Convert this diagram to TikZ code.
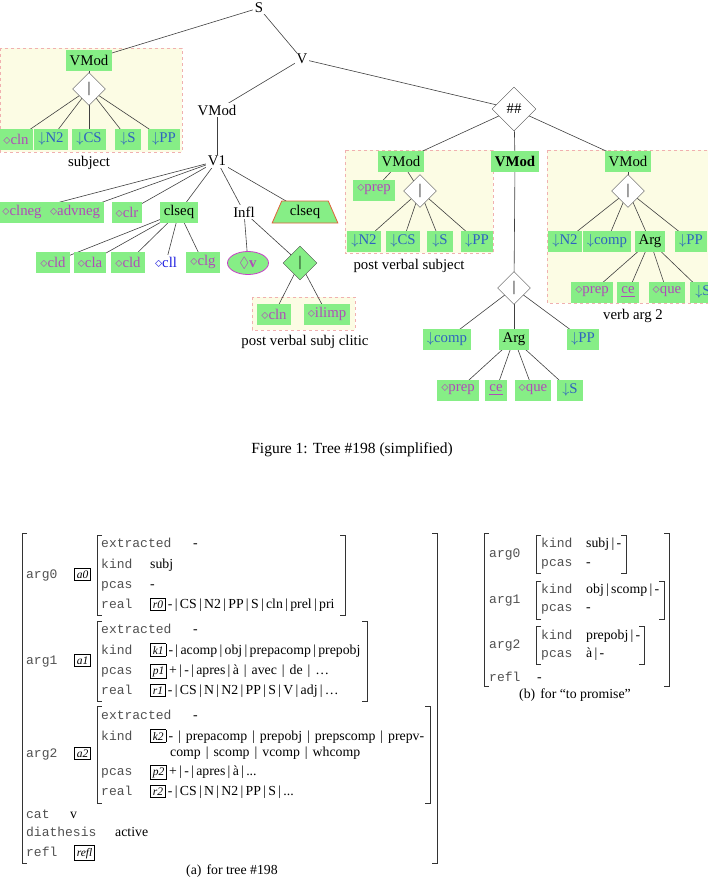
\documentclass[tikz,border=0pt]{standalone}
\usepackage{amssymb}
\usepackage{fontspec}
\setmainfont{Liberation Serif}
\setmonofont{Liberation Mono}
\usepackage{xcolor}
\definecolor{nodegreen}{HTML}{86EE86}
\definecolor{zoneyellow}{HTML}{FCFCE4}
\definecolor{zoneborder}{HTML}{F0B0B0}
\definecolor{coanchor}{HTML}{B04CB8}
\definecolor{substblue}{HTML}{2E62C0}
\definecolor{lexblue}{HTML}{2020E0}
\definecolor{trapborder}{HTML}{E0603A}
\definecolor{ellborder}{HTML}{C840C8}
\definecolor{avmgray}{HTML}{505050}
\usepackage{tikz}
\usetikzlibrary{shapes.geometric,positioning}
\pgfdeclarelayer{zonelayer}
\pgfdeclarelayer{branchlayer}
\pgfsetlayers{zonelayer,branchlayer,main}
\newcommand{\treefont}{\fontsize{14.8}{17}\selectfont}
\newcommand{\capfont}{\fontsize{15.5}{18}\selectfont}
\newcommand{\avmfont}{\fontsize{13.8}{16}\selectfont}
\newcommand{\avmtt}{\fontsize{13}{16}\selectfont\ttfamily}
\newcommand{\tagbx}[1]{{\setlength{\fboxsep}{2pt}\setlength{\fboxrule}{0.6pt}\fbox{\fontsize{11.5}{11.5}\selectfont\itshape #1}}}
\newcommand{\orsep}{\,|\,}
\newcommand{\wsep}{\hspace{5pt}|\hspace{5pt}}
\newcommand{\lbrk}[3]{\draw[brk] (#1+5,#2) -- (#1,#2) -- (#1,#3) -- (#1+5,#3);}
\newcommand{\rbrk}[3]{\draw[brk] (#1-5,#2) -- (#1,#2) -- (#1,#3) -- (#1-5,#3);}

\begin{document}
\begin{tikzpicture}[x=1pt,y=-1pt,
  every node/.style={font=\treefont},
  txt/.style={fill=white,inner sep=1.5pt},
  gbox/.style={fill=nodegreen,inner xsep=4pt,inner ysep=2pt,minimum height=21pt},
  subst/.style={gbox,text=substblue,minimum width=26pt},
  coanch/.style={gbox,text=coanchor},
  choice/.style={diamond,draw=black!70,fill=white,inner sep=0pt,minimum width=33pt,minimum height=33pt},
  zone/.style={fill=zoneyellow,draw=zoneborder,dashed,line width=0.5pt},
  branch/.style={draw=black!75,line width=0.6pt},
  attr/.style={font=\avmtt,text=avmgray,anchor=west,inner sep=0pt,text height=9pt,text depth=3pt},
  avmval/.style={font=\avmfont,anchor=west,inner sep=0pt,text height=9pt,text depth=3pt},
  brk/.style={line width=0.8pt,black!80}]
\useasboundingbox (0,0) rectangle (708,881);

% spine of the tree
\node[txt] (S) at (259,8) {S};
\node[txt] (V) at (302,59) {V};
\node[txt] (vmodA) at (217,110) {VMod};
\node[txt] (vone) at (217,161) {V1};
\node[choice,minimum width=44pt,minimum height=44pt] (hash) at (514,109) {\#\#};

% subject
\node[gbox] (subjvmod) at (89,60) {VMod};
\node[choice] (subjdia) at (89,89) {|};
\node[coanch] (scln) at (16,139) {$\diamond$cln};
\node[subst] (sNtwo) at (51,139) {$\downarrow$N2};
\node[subst] (sCS) at (89,139) {$\downarrow$CS};
\node[subst] (sS) at (128,139) {$\downarrow$S};
\node[subst] (sPP) at (164,139) {$\downarrow$PP};
\node (subjlab) at (89,163) {subject};

% clitics and inflection
\node[coanch] (clneg) at (22,212) {$\diamond$clneg};
\node[coanch] (advneg) at (75,212) {$\diamond$advneg};
\node[coanch] (clr) at (127,212) {$\diamond$clr};
\node[gbox] (clseqA) at (179,212) {clseq};
\node[txt] (infl) at (244,212) {Infl};
\node[trapezium,trapezium left angle=65,trapezium right angle=65,trapezium stretches=true,
  draw=trapborder,line width=0.8pt,fill=nodegreen,minimum width=66pt,minimum height=22pt,inner sep=0pt] (clseqB) at (305,212) {clseq};
\node[coanch] (cldA) at (53,262) {$\diamond$cld};
\node[coanch] (cla) at (90,262) {$\diamond$cla};
\node[coanch] (cldB) at (128,262) {$\diamond$cld};
\node[txt,text=lexblue] (cll) at (166,262) {$\diamond$cll};
\node[coanch] (clg) at (203,262) {$\diamond$clg};
\node[ellipse,draw=ellborder,line width=0.8pt,fill=nodegreen,minimum width=41pt,minimum height=23pt,inner sep=0pt,text=coanchor] (vell) at (248,263) {$\Diamond$\textbf{v}};
\node[choice,fill=nodegreen,minimum width=34pt,minimum height=34pt] (gdia) at (300,263) {|};
\node[coanch] (pcln) at (274,314) {$\diamond$cln};
\node[coanch] (ilimp) at (327,314) {$\diamond$ilimp};
\node (pvsclab) at (305,342) {post verbal subj clitic};

% post verbal subject
\node[gbox] (pvvmod) at (401,161) {VMod};
\node[coanch] (pvprep) at (374,190) {$\diamond$prep};
\node[choice] (pvdia) at (420,191) {|};
\node[subst] (pvNtwo) at (364,241) {$\downarrow$N2};
\node[subst] (pvCS) at (403,241) {$\downarrow$CS};
\node[subst] (pvS) at (440,241) {$\downarrow$S};
\node[subst] (pvPP) at (477,241) {$\downarrow$PP};
\node (pvslab) at (409,266) {post verbal subject};

% middle argument
\node[gbox,font=\treefont\bfseries] (midvmod) at (515,161) {VMod};
\node[choice] (middia) at (514,288) {|};
\node[subst] (midcomp) at (447,339) {$\downarrow$comp};
\node[gbox] (midarg) at (514,339) {Arg};
\node[subst] (midPP) at (583,339) {$\downarrow$PP};
\node[coanch] (mprep) at (458,390) {$\diamond$prep};
\node[coanch] (mce) at (496,390) {\underline{ce}};
\node[coanch] (mque) at (533,390) {$\diamond$que};
\node[subst] (mS) at (570,390) {$\downarrow$S};

% verb arg 2
\node[gbox] (argvmod) at (628,161) {VMod};
\node[choice] (argdia) at (628,191) {|};
\node[subst] (aNtwo) at (565,241) {$\downarrow$N2};
\node[subst] (acomp) at (607,241) {$\downarrow$comp};
\node[gbox] (aarg) at (650,241) {Arg};
\node[subst] (aPP) at (691,241) {$\downarrow$PP};
\node[coanch] (aprep) at (592,292) {$\diamond$prep};
\node[coanch] (ace) at (628,292) {\underline{ce}};
\node[coanch] (aque) at (667,292) {$\diamond$que};
\node[subst] (aS) at (703,292) {$\downarrow$S};
\node (va2lab) at (633,316) {verb arg 2};

\node[font=\capfont] (figcap) at (352,450) {Figure 1: Tree \#198 (simplified)};

\begin{pgfonlayer}{zonelayer}
\draw[zone] (0,48) rectangle (182,152);
\draw[zone] (252,297) rectangle (355,330);
\draw[zone] (345,150) rectangle (493,253);
\draw[zone] (547,150) rectangle (720,303);
\end{pgfonlayer}

\begin{pgfonlayer}{branchlayer}
\foreach \a/\b in {S/subjvmod,S/V,V/vmodA,V/hash,vmodA/vone,
  subjvmod/subjdia,subjdia/scln,subjdia/sNtwo,subjdia/sCS,subjdia/sS,subjdia/sPP,
  vone/clneg,vone/advneg,vone/clr,vone/clseqA,vone/infl,vone/clseqB,
  clseqA/cldA,clseqA/cla,clseqA/cldB,clseqA/cll,clseqA/clg,
  infl/vell,infl/gdia,gdia/pcln,gdia/ilimp,
  hash/pvvmod,hash/midvmod,hash/argvmod,
  pvvmod/pvprep,pvvmod/pvdia,pvdia/pvNtwo,pvdia/pvCS,pvdia/pvS,pvdia/pvPP,
  midvmod/middia,middia/midcomp,middia/midarg,middia/midPP,
  midarg/mprep,midarg/mce,midarg/mque,midarg/mS,
  argvmod/argdia,argdia/aNtwo,argdia/acomp,argdia/aarg,argdia/aPP,
  aarg/aprep,aarg/ace,aarg/aque,aarg/aS}
  \draw[branch] (\a.center) -- (\b.center);
\end{pgfonlayer}

% (a) feature structure for tree #198
\lbrk{22}{533}{863}
\rbrk{437}{533}{863}
\node[attr] (aargzero) at (26,575) {arg0};
\node[avmval] (aazero) at (74,575) {\tagbx{a0}};
\lbrk{97}{535}{615}
\rbrk{345}{535}{615}
\node[attr] (aextzero) at (101,544) {extracted};
\node[avmval] at (193,544) {-};
\node[attr] (akindzero) at (101,565) {kind};
\node[avmval] at (150,565) {subj};
\node[attr] (apcaszero) at (101,585) {pcas};
\node[avmval] at (150,585) {-};
\node[attr] (arealzero) at (101,605) {real};
\node[avmval] at (150,605) {\tagbx{r0}\,-\orsep CS\orsep N2\orsep PP\orsep S\orsep cln\orsep prel\orsep pri};

\node[attr] (aargone) at (26,661) {arg1};
\node[avmval] (aaone) at (74,661) {\tagbx{a1}};
\lbrk{97}{621}{701}
\rbrk{367}{621}{701}
\node[attr] at (101,630) {extracted};
\node[avmval] at (193,630) {-};
\node[attr] at (101,651) {kind};
\node[avmval] at (150,651) {\tagbx{k1}\,-\orsep acomp\orsep obj\orsep prepacomp\orsep prepobj};
\node[attr] at (101,671) {pcas};
\node[avmval] at (150,671) {\tagbx{p1}\,+\orsep -\orsep apres\orsep à\wsep avec\wsep de\wsep \dots};
\node[attr] at (101,691) {real};
\node[avmval] at (150,691) {\tagbx{r1}\,-\orsep CS\orsep N\orsep N2\orsep PP\orsep S\orsep V\orsep adj\orsep \dots};

\node[attr] (aargtwo) at (26,754) {arg2};
\node[avmval] (aatwo) at (74,754) {\tagbx{a2}};
\lbrk{97}{706}{803}
\rbrk{430}{706}{803}
\node[attr] at (101,716) {extracted};
\node[avmval] at (193,716) {-};
\node[attr] at (101,737) {kind};
\node[avmval] at (150,737) {\tagbx{k2}\,-\wsep prepacomp\wsep prepobj\wsep prepscomp\wsep prepv-};
\node[avmval] at (170,753) {comp\wsep scomp\wsep vcomp\wsep whcomp};
\node[attr] at (101,772) {pcas};
\node[avmval] at (150,772) {\tagbx{p2}\,+\orsep -\orsep apres\orsep à\orsep ...};
\node[attr] at (101,792) {real};
\node[avmval] at (150,792) {\tagbx{r2}\,-\orsep CS\orsep N\orsep N2\orsep PP\orsep S\orsep ...};

\node[attr] (acat) at (26,815) {cat};
\node[avmval] at (70,815) {v};
\node[attr] (adiat) at (26,833) {diathesis};
\node[avmval] at (115,833) {active};
\node[attr] (arefl) at (26,853) {refl};
\node[avmval] at (74,853) {\tagbx{refl}};
\node[font=\avmfont] (acap) at (232,871) {(a)\hspace{5pt}for tree \#198};

% (b) feature structure for "to promise"
\lbrk{484}{533}{686}
\rbrk{669}{533}{686}
\node[attr] (bargzero) at (489,554) {arg0};
\lbrk{536}{535}{573}
\rbrk{626}{535}{573}
\node[attr] at (541,544) {kind};
\node[avmval] at (586,544) {subj\orsep -};
\node[attr] at (541,563) {pcas};
\node[avmval] at (586,563) {-};
\node[attr] (bargone) at (489,600) {arg1};
\lbrk{536}{581}{619}
\rbrk{664}{581}{619}
\node[attr] at (541,590) {kind};
\node[avmval] at (586,590) {obj\orsep scomp\orsep -};
\node[attr] at (541,608) {pcas};
\node[avmval] at (586,608) {-};
\node[attr] (bargtwo) at (489,645) {arg2};
\lbrk{536}{626}{664}
\rbrk{644}{626}{664}
\node[attr] at (541,636) {kind};
\node[avmval] at (586,636) {prepobj\orsep -};
\node[attr] at (541,654) {pcas};
\node[avmval] at (586,654) {à\orsep -};
\node[attr] (brefl) at (489,678) {refl};
\node[avmval] at (537,678) {-};
\node[font=\avmfont] (bcap) at (575,695) {(b)\hspace{5pt}for “to promise”};
\end{tikzpicture}
\end{document}
